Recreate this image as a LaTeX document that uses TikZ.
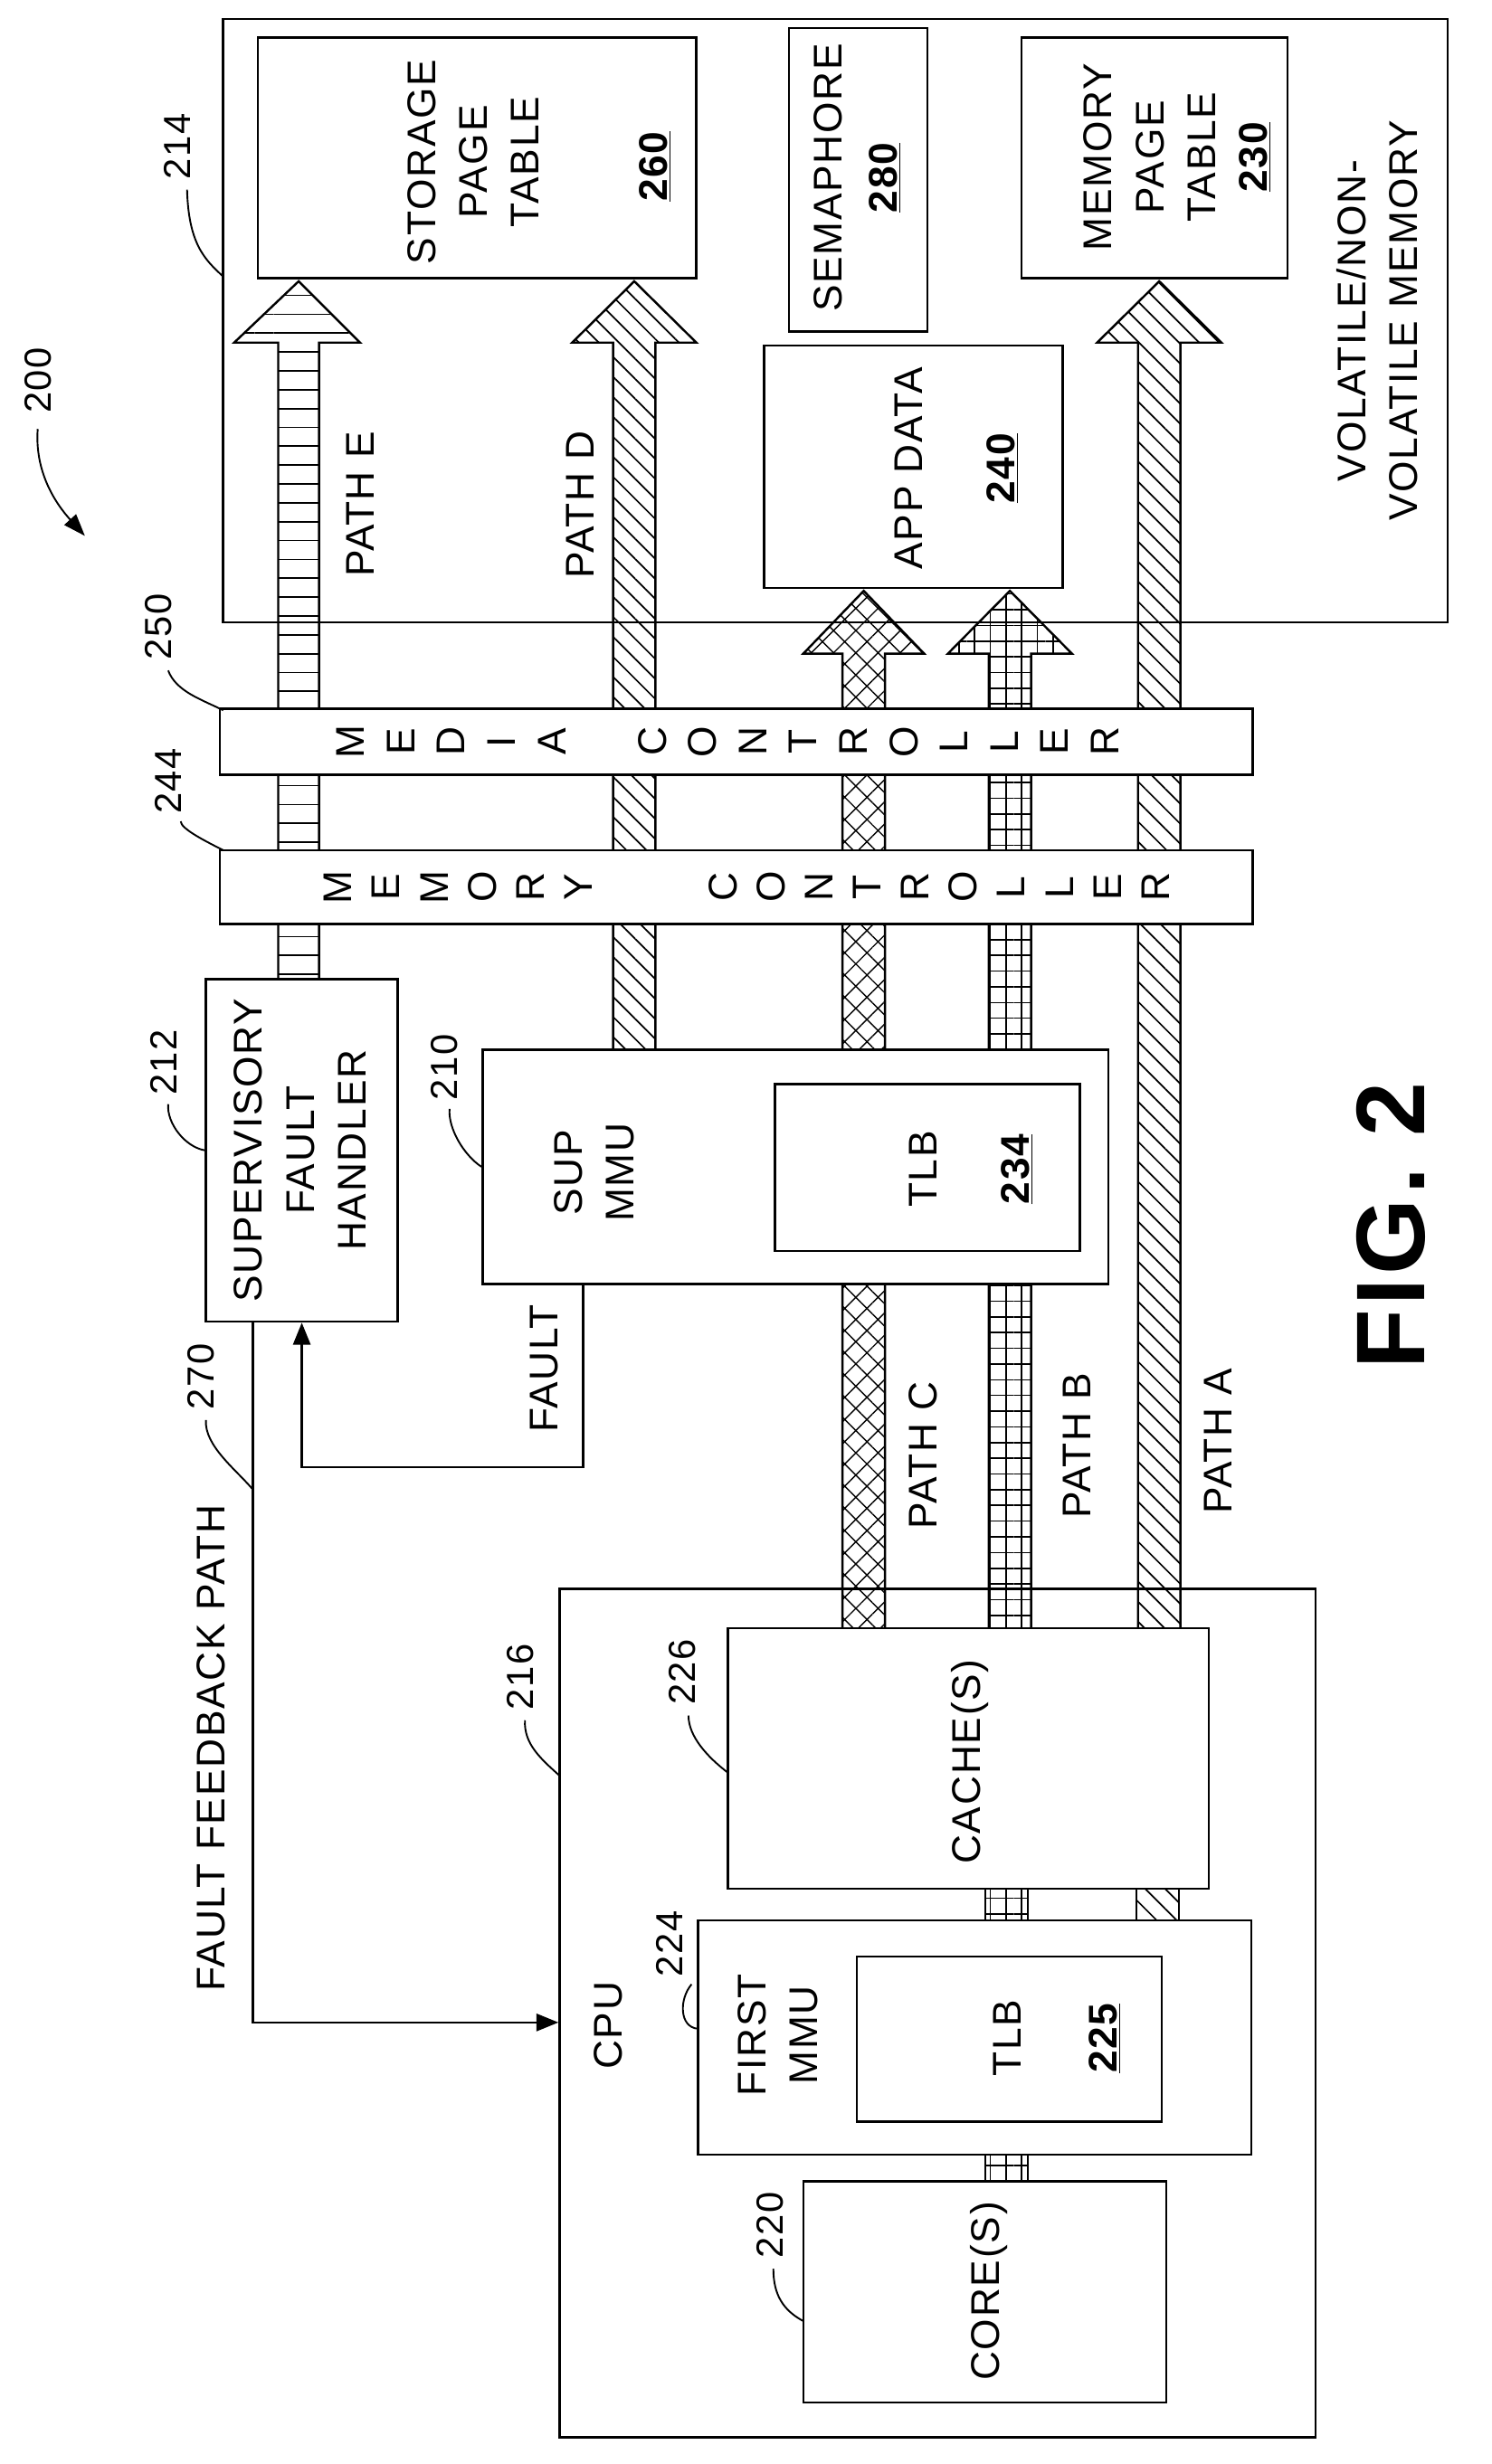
\documentclass[tikz,border=0pt]{standalone}
\usepackage{fontspec}
\setmainfont{Liberation Sans}[LetterSpace=4]
\usetikzlibrary{patterns.meta,arrows.meta}
\begin{document}
\begin{tikzpicture}[x=1pt,y=-1pt,line width=1.4pt,
  box/.style={draw,fill=white,rectangle,inner sep=0pt},
  txt/.style={rotate=90,align=center,font=\fontsize{25.5}{33}\selectfont,inner sep=0pt},
  lbl/.style={rotate=90,font=\fontsize{24}{28}\selectfont,inner sep=0pt},
  arr/.style={-{Triangle[length=14pt,width=11pt]}},
  pE/.style={pattern={Lines[angle=0,distance=12pt,line width=1pt]}},
  pD/.style={pattern={Lines[angle=-45,distance=9pt,line width=1pt]}},
  pC/.style={pattern={Hatch[angle=45,distance=10pt,line width=0.8pt]}},
  pB/.style={pattern={Hatch[angle=0,distance=10pt,line width=0.9pt]}},
  lead/.style={line width=1.1pt}]
\useasboundingbox (0,0) rectangle (949,1568);
\newcommand\fatarr[8]{% style, xl, xr, ybot, hb, tip, hl, hr
  \fill[#1] (#2,#4) -- (#2,#5) -- (#7,#5) -- ({(#2+#3)/2},#6) -- (#8,#5) -- (#3,#5) -- (#3,#4) -- cycle;
  \draw (#2,#4) -- (#2,#5) -- (#7,#5) -- ({(#2+#3)/2},#6) -- (#8,#5) -- (#3,#5) -- (#3,#4);}
\newcommand\refnum[1]{\underline{\bfseries #1}}
\node[box,minimum width=779pt,minimum height=384pt] (mem) at (531.5,204) {};
\fatarr{pE}{177}{203}{623}{218}{179}{149}{229}
\fatarr{pD}{390}{417}{668}{218}{179}{364}{443}
\fatarr{pC}{536}{563}{1036}{416}{376}{511}{588}
\fatarr{pB}{629}{656}{1036}{416}{376}{603}{682}
\fatarr{pD}{724}{751}{1036}{218}{179}{698}{777}
\filldraw[pB] (627,1371) rectangle (654,1388);
\filldraw[pB] (627,1202) rectangle (654,1222);
\filldraw[pD] (723,1202) rectangle (750,1222);
\node[box,minimum width=279pt,minimum height=153pt] (stor) at (303.5,100.5) {};
\node[box,minimum width=88pt,minimum height=193pt] (sem) at (546,114.5) {};
\node[box,minimum width=169pt,minimum height=153pt] (mpt) at (734.5,100.5) {};
\node[box,minimum width=190pt,minimum height=154pt] (app) at (581,297) {};
\node[box,minimum width=657pt,minimum height=42pt] (media) at (468.5,472) {};
\node[box,minimum width=657pt,minimum height=47pt] (memc) at (468.5,564.5) {};
\node[box,minimum width=122pt,minimum height=218pt] (sfh) at (192,732) {};
\node[box,minimum width=398pt,minimum height=149pt] (sup) at (506,742.5) {};
\node[box,minimum width=194pt,minimum height=106pt] (tlbA) at (590,743) {};
\node[draw,rectangle,inner sep=0pt,minimum width=481pt,minimum height=540pt] (cpu) at (596.5,1281) {};
\node[box,minimum width=306pt,minimum height=166pt] (cache) at (616,1119) {};
\node[box,minimum width=352pt,minimum height=149pt] (fmmu) at (620,1296.5) {};
\node[box,minimum width=194pt,minimum height=105pt] (tlbB) at (642,1297.5) {};
\node[box,minimum width=231pt,minimum height=141pt] (core) at (626.5,1458.5) {};
\node[txt] (t1) at (301,103) {STORAGE\\PAGE\\TABLE};
\node[txt] (t1n) at (417,106) {\refnum{260}};
\node[txt] (t2) at (527,113) {SEMAPHORE};
\node[txt] (t2n) at (563,113) {\refnum{280}};
\node[txt] (t3) at (749,100) {MEMORY\\PAGE\\TABLE\\\refnum{230}};
\node[txt] (t4) at (876,204) {VOLATILE/NON-\\VOLATILE MEMORY};
\node[txt] (t5) at (578,298) {APP DATA};
\node[txt] (t5n) at (638,298) {\refnum{240}};
\node[txt] (pe) at (229,321) {PATH E};
\node[txt] (pd) at (369,321) {PATH D};
\node[txt] (pc) at (587,926) {PATH C};
\node[txt] (pb) at (685,920) {PATH B};
\node[txt] (pa) at (775,917) {PATH A};
\foreach \c [count=\i] in {M,E,D,I,A,{},C,O,N,T,R,O,L,L,E,R}
  \node[txt] (md\i) at ({223+32*(\i-1)},472) {\c};
\foreach \c [count=\i] in {M,E,M,O,R,Y,{},{},C,O,N,T,R,O,L,L,E,R}
  \node[txt] (mc\i) at ({215+30.6*(\i-1)},564.5) {\c};
\node[txt] (t6) at (191,732) {SUPERVISORY\\FAULT\\HANDLER};
\node[txt] (t7) at (378,746) {SUP\\MMU};
\node[txt] (t8) at (587,744) {TLB};
\node[txt] (t8n) at (647,744) {\refnum{234}};
\node[txt] (t9) at (346,871) {FAULT};
\node[txt,anchor=west] (t10) at (134,1268) {FAULT FEEDBACK PATH};
\node[txt] (t11) at (387,1289) {CPU};
\node[txt] (t12) at (617,1121) {CACHE(S)};
\node[txt] (t13) at (495,1295) {FIRST\\MMU};
\node[txt] (t14) at (641,1297) {TLB};
\node[txt] (t14n) at (703,1297) {\refnum{225}};
\node[txt] (t15) at (629,1458) {CORE(S)};
\node[rotate=90,font=\fontsize{62}{62}\bfseries\selectfont,inner sep=0pt] (fig) at (885,780) {FIG. 2};
\draw[arr] ([xshift=-135pt]sup.south) -- ++(0,116) -| (sfh.south);
\draw[arr] ([xshift=-31pt]sfh.south) |- ([yshift=-6pt]cpu.west);
\node[lbl] (l200) at (24,242) {200};
\node[lbl] (l214) at (113,93) {214};
\node[lbl] (l250) at (101,399) {250};
\node[lbl] (l244) at (107,497) {244};
\node[lbl] (l212) at (104,676) {212};
\node[lbl] (l210) at (283,679) {210};
\node[lbl] (l270) at (128,876) {270};
\node[lbl] (l216) at (331,1067) {216};
\node[lbl] (l226) at (434,1064) {226};
\node[lbl] (l224) at (426,1237) {224};
\node[lbl] (l220) at (490,1416) {220};
\coordinate (c200) at (24,273); \coordinate (e200) at (54,341);
\draw[lead,-{Triangle[length=14pt,width=10pt]}] (c200) .. controls (22,300) and (35,320) .. (e200);
\draw[lead] (142,176) .. controls (130,165) and (120,155) .. ([xshift=6pt,yshift=-6pt]l214.west);
\draw[lead] (142,452) .. controls (128,445) and (112,440) .. ([xshift=6pt,yshift=-6pt]l250.west);
\draw[lead] (142,541) .. controls (128,534) and (115,527) .. ([xshift=8pt,yshift=-4pt]l244.west);
\draw[lead] (sfh.west) .. controls (118,730) and (106,715) .. ([xshift=3pt,yshift=-5pt]l212.west);
\draw[lead] (sup.west) .. controls (295,735) and (285,718) .. ([xshift=3pt,yshift=-5pt]l210.west);
\draw[lead] (161,948) .. controls (150,935) and (130,920) .. ([xshift=3pt,yshift=-6pt]l270.west);
\draw[lead] (356,1130) .. controls (345,1120) and (333,1110) .. ([xshift=3pt,yshift=-6pt]l216.west);
\draw[lead] (463,1128) .. controls (450,1118) and (438,1105) .. ([xshift=4pt,yshift=-6pt]l226.west);
\draw[lead] (444,1291) .. controls (432,1290) and (432,1272) .. ([xshift=14pt,yshift=-4pt]l224.west);
\draw[lead] (511,1477) .. controls (498,1470) and (492,1460) .. ([xshift=2pt,yshift=-6pt]l220.west);
\end{tikzpicture}
\end{document}
